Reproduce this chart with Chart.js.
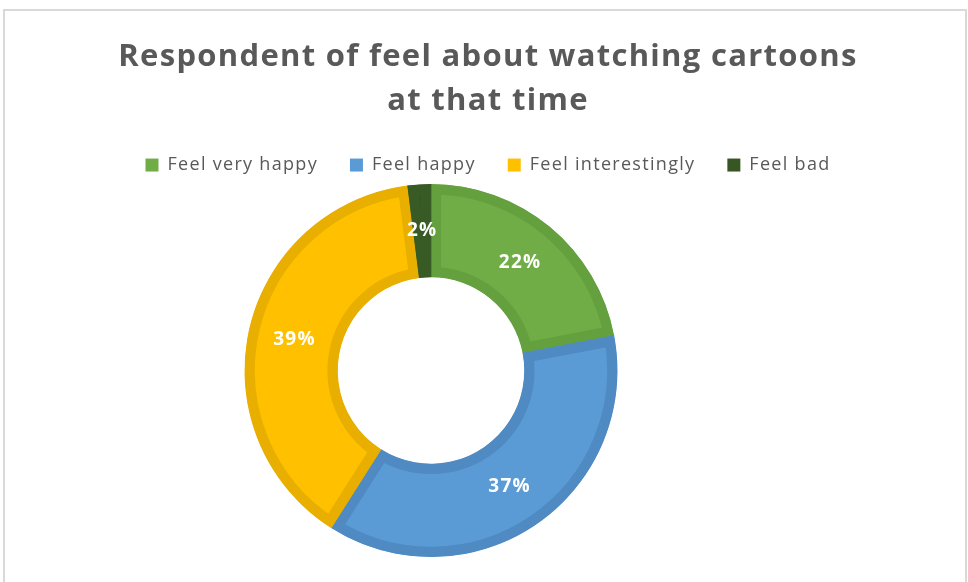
<!DOCTYPE html>
<html>
<head>
<meta charset="utf-8">
<script src="https://cdn.jsdelivr.net/npm/chart.js@4.4.1/dist/chart.umd.min.js"></script>
<style>
  html, body { margin: 0; padding: 0; background: #fff; }
  body { width: 968px; height: 582px; position: relative; overflow: hidden; }
  #frame { position: absolute; left: 3px; top: 9px; width: 960px; height: 620px; border: 2px solid #d9d9d9; }
  #chart { position: absolute; left: 0; top: 0; }
</style>
</head>
<body>
<div id="frame"></div>
<canvas id="chart" width="968" height="582"></canvas>
<script>
const labels = ["Feel very happy", "Feel happy", "Feel interestingly", "Feel bad"];
const shares = [22, 37, 39, 2];
const fillColors = ["#70AD47", "#5B9BD5", "#FFC000", "#375623"];
const edgeColors = ["#65A03F", "#4F8AC2", "#E8AE00", "#385A24"];
const titleLines = ["Respondent of feel about watching cartoons", "at that time"];

const FONT = "'Open Sans', Lato, sans-serif";
const ringCenterX = 431;

// the sheet's text is set a little loose; apply before layout so the legend measures it
const looseText = {
  id: "looseText",
  beforeLayout(chart) {
    chart.ctx.letterSpacing = "1.3px";
  },
  beforeDraw(chart) {
    chart.ctx.letterSpacing = "1.3px";
  },
};

// the ring sits left of the title/legend center, like the original sheet
const ringPlacement = {
  id: "ringPlacement",
  afterLayout(chart) {
    const area = chart.chartArea;
    const half = (area.bottom - area.top) / 2;
    area.left = ringCenterX - half;
    area.right = ringCenterX + half;
    area.width = half * 2;
  },
};

const percentLabels = {
  id: "percentLabels",
  afterDatasetsDraw(chart) {
    const ctx = chart.ctx;
    const meta = chart.getDatasetMeta(0);
    ctx.save();
    ctx.fillStyle = "#ffffff";
    ctx.font = `bold 19px ${FONT}`;
    ctx.textAlign = "center";
    ctx.textBaseline = "middle";
    meta.data.forEach((arc, i) => {
      const p = arc.tooltipPosition();
      ctx.fillText(`${shares[i]}%`, p.x, p.y);
    });
    ctx.restore();
  },
};

new Chart(document.getElementById("chart"), {
  type: "doughnut",
  data: {
    labels: labels,
    datasets: [
      {
        data: shares,
        backgroundColor: fillColors,
        borderColor: edgeColors,
        borderWidth: 10,
        borderAlign: "inner",
        hoverOffset: 0,
        hoverBorderWidth: 10,
      },
    ],
  },
  options: {
    responsive: false,
    animation: false,
    cutout: "50%",
    layout: { padding: { left: 8, right: 0, top: 0, bottom: 25 } },
    plugins: {
      title: {
        display: true,
        text: titleLines,
        color: "#595959",
        font: { family: FONT, size: 31, weight: "bold", lineHeight: 1.42 },
        padding: { top: 35, bottom: 1 },
      },
      legend: {
        position: "top",
        labels: {
          color: "#595959",
          font: { family: FONT, size: 18 },
          boxWidth: 13,
          boxHeight: 13,
          padding: 32,
          generateLabels(chart) {
            const items = Chart.overrides.doughnut.plugins.legend.labels.generateLabels(chart);
            items.forEach((item) => {
              item.lineWidth = 0;
              item.strokeStyle = item.fillStyle;
            });
            return items;
          },
        },
      },
      tooltip: { enabled: false },
    },
  },
  plugins: [looseText, ringPlacement, percentLabels],
});
</script>
</body>
</html>
